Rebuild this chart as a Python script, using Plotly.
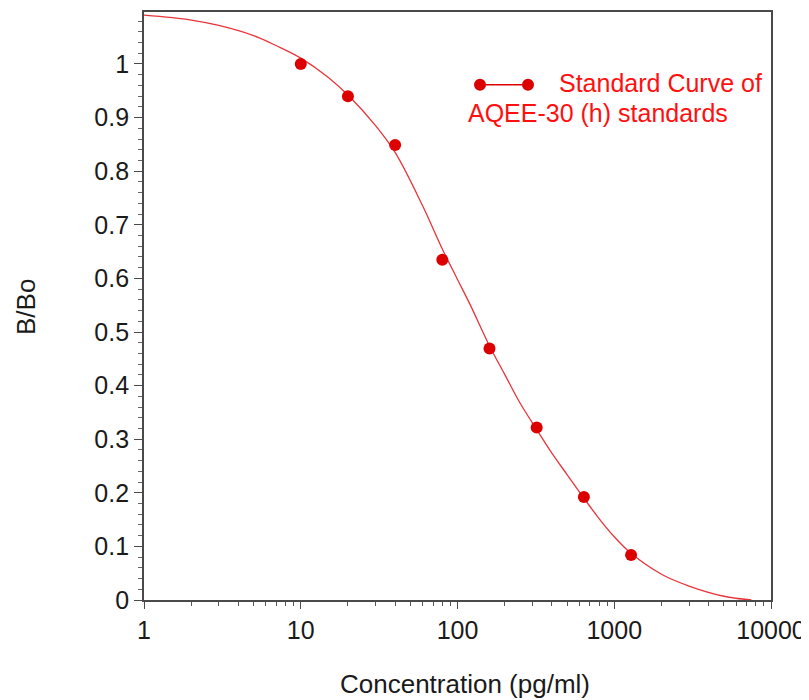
import plotly.graph_objects as go

# Standard points
conc = [10, 20, 40, 80, 160, 320, 640, 1280]
b_bo = [1.0, 0.94, 0.849, 0.635, 0.469, 0.322, 0.192, 0.084]

# Fitted curve
curve_x = [1, 2, 3, 5, 7, 10, 15, 20, 30, 40, 60, 80, 100, 120, 160, 200, 250,
           320, 400, 500, 640, 800, 1000, 1280, 2000, 3000, 5000, 7500]
curve_y = [1.091, 1.082, 1.072, 1.053, 1.034, 1.011, 0.975, 0.942, 0.885, 0.835,
           0.735, 0.655, 0.598, 0.552, 0.474, 0.421, 0.368, 0.318, 0.274, 0.234,
           0.19, 0.152, 0.118, 0.087, 0.048, 0.026, 0.007, 0.0]

x_ticks = [1, 10, 100, 1000, 10000]
x_labels = ["1", "10", "100", "1000", "10000"]
y_ticks = [0, 0.1, 0.2, 0.3, 0.4, 0.5, 0.6, 0.7, 0.8, 0.9, 1.0]
y_labels = ["0", "0.1", "0.2", "0.3", "0.4", "0.5", "0.6", "0.7", "0.8", "0.9", "1"]

legend_lines = ["Standard Curve of", "AQEE-30 (h) standards"]
x_title = "Concentration (pg/ml)"
y_title = "B/Bo"

minor_x = [m * 10 ** e for e in range(0, 4) for m in range(2, 10)]

fig = go.Figure()
fig.add_trace(go.Scatter(x=curve_x, y=curve_y, mode="lines",
                         line=dict(color="#e8353a", width=1.3, shape="spline"),
                         showlegend=False, hoverinfo="skip"))
fig.add_trace(go.Scatter(x=conc, y=b_bo, mode="markers",
                         marker=dict(color="#dd0000", size=12),
                         showlegend=False))

font_fam = "Liberation Sans, Arial, sans-serif"
txt = "#1a1a1a"

# page body has an 8px margin; figure is sized to fit inside the window
fig.update_layout(
    width=801, height=692,
    margin=dict(l=136, r=38, t=2, b=100),
    paper_bgcolor="white", plot_bgcolor="white",
    font=dict(family=font_fam, color=txt),
    xaxis=dict(type="log", range=[0, 4], tickvals=x_ticks, ticktext=x_labels,
               showline=True, linecolor="#4a4a4a", linewidth=1.8, mirror=True,
               ticks="outside", ticklen=7, tickcolor="#4a4a4a", tickwidth=1.3,
               showgrid=False, zeroline=False,
               tickfont=dict(size=25, color=txt),
               minor=dict(tickvals=minor_x, ticks="outside", ticklen=4,
                          tickcolor="#555555", showgrid=False)),
    yaxis=dict(range=[0, 1.097], tickvals=y_ticks, ticktext=y_labels,
               showline=True, linecolor="#4a4a4a", linewidth=1.8, mirror=True,
               ticks="outside", ticklen=8, tickcolor="#4a4a4a", tickwidth=1.3,
               showgrid=False, zeroline=False,
               tickfont=dict(size=25, color=txt),
               minor=dict(dtick=0.02, tick0=0, ticks="outside", ticklen=4,
                          tickcolor="#666666", showgrid=False)),
)

# page-coordinate helpers (plot area in page pixels)
pl, pr, pt, pb = 144, 771, 10, 600
def px(x):
    return (x - pl) / (pr - pl)
def py(y):
    return (pb - y) / (pb - pt)

# axis titles
fig.add_annotation(xref="paper", yref="paper", x=px(465), y=py(684),
                   text=x_title, showarrow=False, xanchor="center", yanchor="middle",
                   font=dict(size=26, color=txt, family=font_fam))
fig.add_annotation(xref="paper", yref="paper", x=px(26), y=py(306),
                   text=y_title, showarrow=False, xanchor="center", yanchor="middle",
                   textangle=-90, font=dict(size=26, color=txt, family=font_fam))

# legend: marker-line-marker symbol and two-line text
lx0, lx1, ly = 480, 528, 83
fig.add_shape(type="line", xref="paper", yref="paper",
              x0=px(lx0), x1=px(lx1), y0=py(ly), y1=py(ly),
              line=dict(color="#dd0000", width=1.5))
for cx in (lx0, lx1):
    r = 6
    fig.add_shape(type="circle", xref="paper", yref="paper",
                  x0=px(cx - r), x1=px(cx + r), y0=py(ly + r), y1=py(ly - r),
                  fillcolor="#dd0000", line=dict(color="#dd0000", width=0))

fig.add_annotation(xref="paper", yref="paper", x=px(557), y=py(81),
                   text=legend_lines[0], showarrow=False, xanchor="left", yanchor="middle",
                   font=dict(size=25, color="#ff1010", family=font_fam))
fig.add_annotation(xref="paper", yref="paper", x=px(466), y=py(111),
                   text=legend_lines[1], showarrow=False, xanchor="left", yanchor="middle",
                   font=dict(size=25, color="#ff1010", family=font_fam))

fig.write_html("out.html")
